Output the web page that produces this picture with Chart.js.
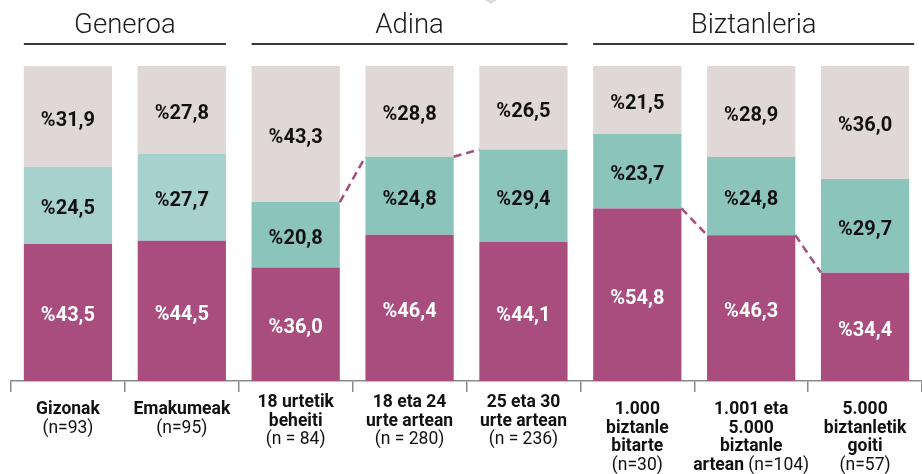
<!DOCTYPE html>
<html>
<head>
<meta charset="utf-8">
<script src="https://cdn.jsdelivr.net/npm/chart.js@4.4.1/dist/chart.umd.min.js"></script>
<style>
  html, body { margin: 0; padding: 0; background: #fff; }
</style>
</head>
<body>
<canvas id="chart" width="922" height="474"></canvas>
<script>
// Data
const categories = ["Gizonak", "Emakumeak", "18 urtetik beheiti", "18 eta 24 urte artean",
  "25 eta 30 urte artean", "1.000 biztanle bitarte", "1.001 eta 5.000 biztanle artean", "5.000 biztanletik goiti"];
const xLabelLines = [
  ["Gizonak", "(n=93)"],
  ["Emakumeak", "(n=95)"],
  ["18 urtetik", "beheiti", "(n = 84)"],
  ["18 eta 24", "urte artean", "(n = 280)"],
  ["25 eta 30", "urte artean", "(n = 236)"],
  ["1.000", "biztanle", "bitarte", "(n=30)"],
  ["1.001 eta", "5.000", "biztanle", "artean (n=104)"],
  ["5.000", "biztanletik", "goiti", "(n=57)"]
];
const bottomValues = [43.5, 44.5, 36.0, 46.4, 44.1, 54.8, 46.3, 34.4];
const middleValues = [24.5, 27.7, 20.8, 24.8, 29.4, 23.7, 24.8, 29.7];
const topValues = [31.9, 27.8, 43.3, 28.8, 26.5, 21.5, 28.9, 36.0];

const groupTitles = ["Generoa", "Adina", "Biztanleria"];
const groupStart = [0, 2, 5];
const groupEnd = [1, 4, 7];

// dashed connectors: [dataset index, from bar, to bar]
const connectors = [[1, 2, 3], [1, 3, 4], [0, 5, 6], [0, 6, 7]];

const PINK = "#a94d7e";
const TEAL = "#8ac4bb";
const TEAL_LIGHT = "#a6d1cc";
const GREY = "#e0d8d7";

function fmt(v) {
  return "%" + v.toFixed(1).replace(".", ",");
}

const overlayPlugin = {
  id: "overlay",
  afterDatasetsDraw(chart) {
    const ctx = chart.ctx;
    const metas = [0, 1, 2].map((i) => chart.getDatasetMeta(i));

    // small grey marker at the top edge
    ctx.save();
    ctx.fillStyle = "#dcdcdc";
    ctx.beginPath();
    ctx.moveTo(485, 0);
    ctx.lineTo(497, 0);
    ctx.lineTo(491, 4);
    ctx.closePath();
    ctx.fill();
    ctx.restore();

    // dashed connectors
    ctx.save();
    ctx.strokeStyle = PINK;
    ctx.lineWidth = 2.5;
    ctx.setLineDash([8, 5]);
    connectors.forEach(([ds, a, b]) => {
      const ea = metas[ds].data[a];
      const eb = metas[ds].data[b];
      ctx.beginPath();
      ctx.moveTo(ea.x + ea.width / 2, ea.y);
      ctx.lineTo(eb.x - eb.width / 2, eb.y);
      ctx.stroke();
    });
    ctx.restore();

    // value labels inside segments
    ctx.save();
    ctx.font = "bold 20px Roboto";
    ctx.textAlign = "center";
    ctx.textBaseline = "middle";
    metas.forEach((meta, ds) => {
      const values = chart.data.datasets[ds].data;
      meta.data.forEach((el, i) => {
        ctx.fillStyle = ds === 0 ? "#ffffff" : "#111111";
        ctx.fillText(fmt(values[i]), el.x, (el.y + el.base) / 2 + 4);
      });
    });
    ctx.restore();

    // group headers
    ctx.save();
    groupTitles.forEach((title, g) => {
      const left = metas[0].data[groupStart[g]];
      const right = metas[0].data[groupEnd[g]];
      let x0 = left.x - left.width / 2;
      let x1 = right.x + right.width / 2;
      if (g === groupTitles.length - 1) x1 += 5;
      ctx.strokeStyle = "#3a3a3a";
      ctx.lineWidth = 2;
      ctx.beginPath();
      ctx.moveTo(x0, 44);
      ctx.lineTo(x1, 44);
      ctx.stroke();
      ctx.fillStyle = "#1a1a1a";
      ctx.font = "300 27.5px Roboto";
      ctx.textAlign = "center";
      ctx.textBaseline = "alphabetic";
      ctx.fillText(title, (x0 + x1) / 2, 33);
    });
    ctx.restore();

    // category labels under the axis
    ctx.save();
    ctx.fillStyle = "#111111";
    ctx.textBaseline = "middle";
    const xScale = chart.scales.x;
    xLabelLines.forEach((lines, i) => {
      const cx = chart.getDatasetMeta(0).data[i].x;
      const startY = (i >= 2 && i <= 4) ? 403 : 410;
      lines.forEach((line, j) => {
        const y = startY + j * 18.5;
        const k = line.indexOf("(");
        const boldPart = k >= 0 ? line.slice(0, k) : line;
        const normPart = k >= 0 ? line.slice(k) : "";
        ctx.font = "bold 17.5px Roboto";
        const wb = ctx.measureText(boldPart).width;
        ctx.font = "17.5px Roboto";
        const wn = ctx.measureText(normPart).width;
        let x = cx - (wb + wn) / 2;
        ctx.textAlign = "left";
        ctx.font = "bold 17.5px Roboto";
        ctx.fillText(boldPart, x, y);
        ctx.font = "17.5px Roboto";
        ctx.fillText(normPart, x + wb, y);
      });
    });
    ctx.restore();
  }
};

new Chart(document.getElementById("chart"), {
  type: "bar",
  data: {
    labels: categories,
    datasets: [
      { data: bottomValues, backgroundColor: PINK },
      { data: middleValues, backgroundColor: middleValues.map((v, i) => (i < 2 ? TEAL_LIGHT : TEAL)) },
      { data: topValues, backgroundColor: GREY }
    ]
  },
  options: {
    responsive: false,
    animation: false,
    layout: { padding: { top: 66, left: 11, right: 0, bottom: 82 } },
    datasets: { bar: { barPercentage: 0.775, categoryPercentage: 1, borderWidth: 0 } },
    plugins: { legend: { display: false }, tooltip: { enabled: false } },
    scales: {
      x: {
        stacked: true,
        grid: { drawOnChartArea: false, drawTicks: true, tickLength: 11, color: "#8a8a8a", lineWidth: 1.5 },
        border: { color: "#8a8a8a", width: 1.5 },
        ticks: { display: false }
      },
      y: {
        stacked: true,
        display: false,
        min: 0,
        max: 100
      }
    }
  },
  plugins: [overlayPlugin]
});
</script>
</body>
</html>
